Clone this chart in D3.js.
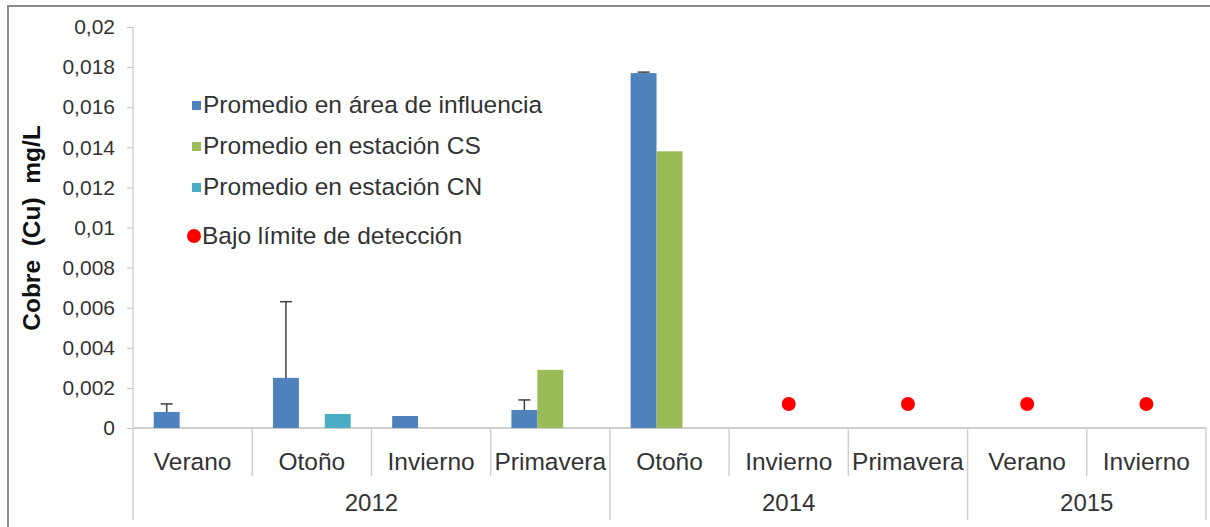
<!DOCTYPE html>
<html>
<head>
<meta charset="utf-8">
<script src="https://cdn.jsdelivr.net/npm/d3@7"></script>
<style>
  body { margin: 0; background: #fff; }
  svg { display: block; font-family: "Liberation Sans", Arial, sans-serif; }
</style>
</head>
<body>
<svg width="1210" height="527"></svg>
<script>
const categories = ['Verano', 'Otoño', 'Invierno', 'Primavera', 'Otoño', 'Invierno', 'Primavera', 'Verano', 'Invierno'];
const yearLabels = ['2012', '2014', '2015'];
const yearSpans = [4, 3, 2];

const seriesNames = ['Promedio en área de influencia', 'Promedio en estación CS', 'Promedio en estación CN'];
const seriesColors = ['#4f81bd', '#9bbb59', '#4bacc6'];
const areaValues = [0.0008, 0.0025, 0.0006, 0.0009, 0.0177, null, null, null, null];
const areaErrors = [0.0004, 0.0038, null, 0.0005, 0.00005, null, null, null, null];
const csValues = [null, null, null, 0.0029, 0.0138, null, null, null, null];
const cnValues = [null, 0.0007, null, null, null, null, null, null, null];
const belowLimit = [null, null, null, null, null, 0.0012, 0.0012, 0.0012, 0.0012];
const belowLimitName = 'Bajo límite de detección';

const svg = d3.select('svg');

const plotLeft = 133, plotRight = 1206, plotTop = 27, plotBottom = 428;

const y = d3.scaleLinear().domain([0, 0.02]).range([plotBottom, plotTop]);
const x0 = d3.scaleBand().domain(d3.range(categories.length)).range([plotLeft, plotRight]);
const x1 = d3.scaleBand().domain(d3.range(3)).range([0, x0.bandwidth()]).paddingOuter(0.8);

// frame
svg.append('rect').attr('x', 8).attr('y', 6).attr('width', 1220).attr('height', 540)
    .attr('fill', 'none').attr('stroke', '#8c8c8c').attr('stroke-width', 2);

// y axis
const fmt = d => String(+d.toFixed(3)).replace('.', ',');
const yAxis = svg.append('g').attr('transform', `translate(${plotLeft},0)`)
    .call(d3.axisLeft(y).tickValues(d3.range(0, 0.0201, 0.002)).tickSize(6).tickPadding(12).tickFormat(fmt));
yAxis.select('.domain').attr('stroke', '#bfbfbf').attr('d', `M0,${plotTop}V${plotBottom}`);
yAxis.selectAll('.tick line').attr('stroke', '#bfbfbf');
yAxis.selectAll('.tick text').attr('fill', '#333').style('font-size', '21px')
    .style('font-family', '"Liberation Sans", Arial, sans-serif');

svg.append('text')
    .attr('transform', `translate(40,228) rotate(-90)`)
    .attr('text-anchor', 'middle')
    .style('font-weight', 'bold').style('font-size', '24.5px').attr('fill', '#111')
    .attr('xml:space', 'preserve')
    .text('Cobre  (Cu)  mg/L');

// x axis with two levels
svg.append('line').attr('x1', plotLeft).attr('x2', plotRight).attr('y1', plotBottom).attr('y2', plotBottom)
    .attr('stroke', '#bfbfbf').attr('stroke-width', 1.5);

const yearStarts = yearSpans.map((s, i) => d3.sum(yearSpans.slice(0, i)));
const boundaries = d3.range(categories.length + 1);
svg.append('g').selectAll('line').data(boundaries).join('line')
    .attr('x1', i => i < categories.length ? x0(i) : plotRight)
    .attr('x2', i => i < categories.length ? x0(i) : plotRight)
    .attr('y1', plotBottom)
    .attr('y2', i => (yearStarts.includes(i) || i === categories.length) ? 520 : 476)
    .attr('stroke', '#d0d0d0').attr('stroke-width', 1.5);

svg.append('g').selectAll('text').data(categories).join('text')
    .attr('x', (d, i) => x0(i) + x0.bandwidth() / 2).attr('y', 470)
    .attr('text-anchor', 'middle').style('font-size', '24.5px').attr('fill', '#333')
    .text(d => d);

svg.append('g').selectAll('text').data(yearLabels).join('text')
    .attr('x', (d, i) => x0(yearStarts[i]) + yearSpans[i] * x0.bandwidth() / 2).attr('y', 511)
    .attr('text-anchor', 'middle').style('font-size', '24px').attr('fill', '#333')
    .text(d => d);

// bars
[areaValues, csValues, cnValues].forEach((vals, s) => {
    svg.append('g').selectAll('rect').data(vals.map((v, i) => ({ v, i })).filter(d => d.v != null)).join('rect')
        .attr('x', d => x0(d.i) + x1(s))
        .attr('width', x1.bandwidth())
        .attr('y', d => y(d.v))
        .attr('height', d => plotBottom - y(d.v))
        .attr('fill', seriesColors[s]);
});

// error bars (plus only)
const errs = areaValues.map((v, i) => ({ v, e: areaErrors[i], i })).filter(d => d.v != null && d.e != null);
const eg = svg.append('g').attr('stroke', '#404040').attr('stroke-width', 1.5);
eg.selectAll('line.v').data(errs).join('line').attr('class', 'v')
    .attr('x1', d => x0(d.i) + x1(0) + x1.bandwidth() / 2)
    .attr('x2', d => x0(d.i) + x1(0) + x1.bandwidth() / 2)
    .attr('y1', d => y(d.v)).attr('y2', d => y(d.v + d.e));
eg.selectAll('line.c').data(errs).join('line').attr('class', 'c')
    .attr('x1', d => x0(d.i) + x1(0) + x1.bandwidth() / 2 - 6)
    .attr('x2', d => x0(d.i) + x1(0) + x1.bandwidth() / 2 + 6)
    .attr('y1', d => y(d.v + d.e)).attr('y2', d => y(d.v + d.e));

// below detection limit markers
svg.append('g').selectAll('circle').data(belowLimit.map((v, i) => ({ v, i })).filter(d => d.v != null)).join('circle')
    .attr('cx', d => x0(d.i) + x0.bandwidth() / 2)
    .attr('cy', d => y(d.v))
    .attr('r', 7).attr('fill', '#ff0000');

// legend
const legend = svg.append('g').attr('transform', 'translate(192,0)');
const legendY = [105, 146, 187];
seriesNames.forEach((name, i) => {
    legend.append('rect').attr('x', 0).attr('y', legendY[i] - 4).attr('width', 9).attr('height', 9)
        .attr('fill', seriesColors[i]);
    legend.append('text').attr('x', 11).attr('y', legendY[i] + 8).style('font-size', '24.5px').attr('fill', '#333')
        .text(name);
});
legend.append('circle').attr('cx', 2).attr('cy', 236).attr('r', 7).attr('fill', '#ff0000');
legend.append('text').attr('x', 10).attr('y', 244).style('font-size', '24.5px').attr('fill', '#333')
    .text(belowLimitName);
</script>
</body>
</html>
